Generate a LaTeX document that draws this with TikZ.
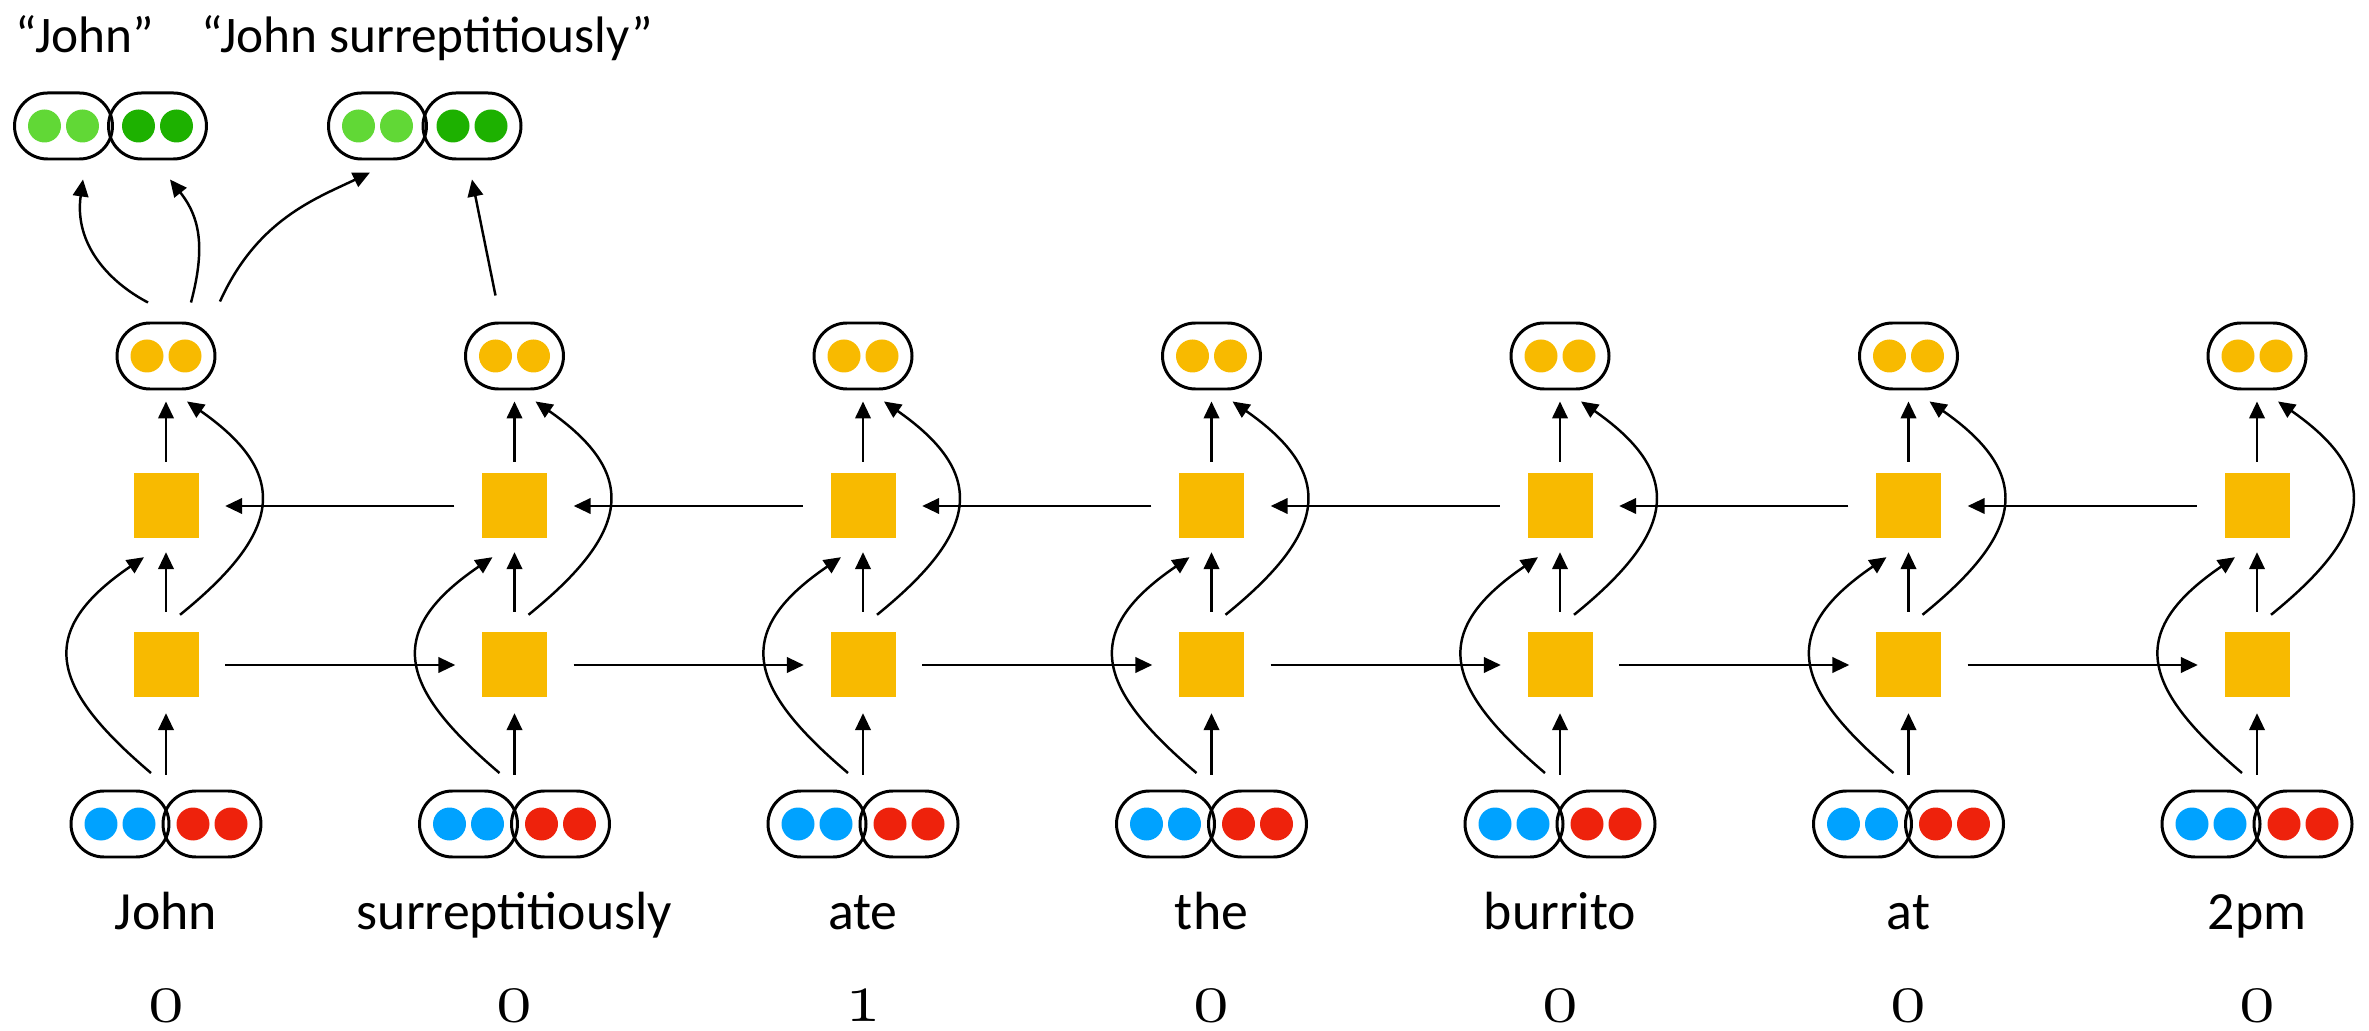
\documentclass[tikz,border=0pt]{standalone}
\usepackage{fontspec}
\setmainfont{Carlito}
\usepackage{tikz}
\usetikzlibrary{arrows.meta}
\definecolor{rnnyellow}{HTML}{F8BA00}
\definecolor{embblue}{HTML}{00A2FF}
\definecolor{embred}{HTML}{EE220C}
\definecolor{spanlight}{HTML}{61D836}
\definecolor{spandark}{HTML}{1DB100}
\tikzset{
  pill/.style={draw, line width=0.85pt, rounded corners=0.33cm, minimum width=0.98cm, minimum height=0.66cm, inner sep=0pt},
  cell/.style={fill=rnnyellow, minimum size=0.65cm, inner sep=0pt},
  conn/.style={line width=0.7pt, -{Triangle[length=0.17cm, width=0.155cm]}},
  word/.style={anchor=base, font=\fontsize{15.3}{18}\selectfont},
  spanlabel/.style={anchor=base, font=\fontsize{14.6}{17}\selectfont},
  tag/.style={anchor=base, inner sep=0pt, font=\fontsize{20}{24}\usefont{OML}{cmm}{m}{it}},
}
\newcommand{\twodots}[2]{\fill[#2] ([xshift=-0.19cm]#1.center) circle (0.165cm) ([xshift=0.19cm]#1.center) circle (0.165cm);}

\begin{document}
\begin{tikzpicture}
    \useasboundingbox (0,0) rectangle (23.69,-10.31);
    %
    \foreach \w/\n [count=\i] in {John/0, surreptitiously/0, ate/1, the/0, burrito/0, at/0, 2pm/0} {
        \pgfmathsetmacro\X{1.66+3.485*(\i-1)}
        \node[pill] (top\i) at (\X,-3.56) {};
        \twodots{top\i}{rnnyellow}
        \node[cell] (bwd\i) at (\X,-5.06) {};
        \node[cell] (fwd\i) at (\X,-6.65) {};
        \node[pill] (inL\i) at (\X-0.46,-8.24) {};
        \node[pill] (inR\i) at (\X+0.46,-8.24) {};
        \twodots{inL\i}{embblue}
        \twodots{inR\i}{embred}
        \coordinate (in\i) at (\X,-7.91);
        \node[word] (word\i) at (\X,-9.30) {\w};
        \node[tag] (lab\i) at (\X,-10.21) {\n};
        %
        \draw[conn, shorten <=0.16cm, shorten >=0.15cm] (in\i) -- (fwd\i);
        \draw[conn, shorten <=0.20cm, shorten >=0.13cm] (fwd\i) -- (bwd\i);
        \draw[conn, shorten <=0.11cm, shorten >=0.11cm] (bwd\i) -- (top\i);
        \draw[conn] ([xshift=-0.15cm,yshift=0.18cm]in\i) .. controls +(-1.0,0.85) and +(-1.1,-0.75) .. ([xshift=-0.22cm,yshift=-0.18cm]bwd\i.south);
        \draw[conn] ([xshift=0.14cm,yshift=0.17cm]fwd\i.north) .. controls +(1.0,0.81) and +(1.06,-0.74) .. ([xshift=0.21cm,yshift=-0.11cm]top\i.south);
    }
    %
    \foreach \i in {1,...,6} {
        \pgfmathtruncatemacro\j{\i+1}
        \draw[conn, shorten <=0.26cm, shorten >=0.26cm] (fwd\i) -- (fwd\j);
        \draw[conn, shorten <=0.27cm, shorten >=0.26cm] (bwd\j) -- (bwd\i);
    }
    %
    % span vectors
    \node[pill] (gL1) at (0.635,-1.26) {};
    \node[pill] (gR1) at (1.575,-1.26) {};
    \node[pill] (gL2) at (3.775,-1.26) {};
    \node[pill] (gR2) at (4.72,-1.26) {};
    \twodots{gL1}{spanlight}
    \twodots{gR1}{spandark}
    \twodots{gL2}{spanlight}
    \twodots{gR2}{spandark}
    \node[spanlabel] (span1) at (0.85,-0.53) {``John''};
    \node[spanlabel] (span2) at (4.27,-0.53) {``John surreptitiously''};
    %
    \draw[conn] ([xshift=-0.18cm,yshift=0.19cm]top1.north) .. controls +(-0.4,0.21) and +(-0.09,-0.64) .. ([xshift=0.195cm,yshift=-0.19cm]gL1.south);
    \draw[conn] ([xshift=0.25cm,yshift=0.19cm]top1.north) .. controls +(0.14,0.53) and +(0.31,-0.39) .. ([xshift=0.125cm,yshift=-0.19cm]gR1.south);
    \draw[conn] ([xshift=0.54cm,yshift=0.20cm]top1.north) .. controls +(0.37,0.82) and +(-0.54,-0.26) .. ([xshift=-0.075cm,yshift=-0.12cm]gL2.south);
    \draw[conn] ([xshift=-0.19cm,yshift=0.26cm]top2.north) -- ([yshift=-0.19cm]gR2.south);
\end{tikzpicture}
\end{document}
